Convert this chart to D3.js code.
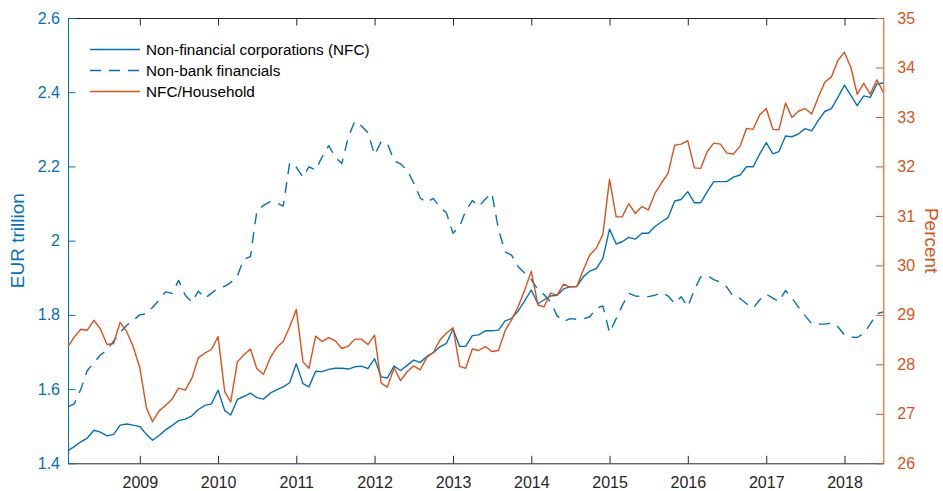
<!DOCTYPE html>
<html>
<head>
<meta charset="utf-8">
<script src="https://cdn.jsdelivr.net/npm/d3@7"></script>
<style>
  body { margin: 0; background: #fff; }
  svg { display: block; font-family: "Liberation Sans", Arial, Helvetica, sans-serif; }
</style>
</head>
<body>
<div id="chart"></div>
<script>
// Monthly series, Feb 2008 - Jul 2018
const firstMonth = new Date(2008, 1, 1);
const lastMonth = new Date(2018, 6, 1);

// Non-financial corporations (NFC), EUR trillion
const nfc = [
  1.434, 1.445, 1.458, 1.468, 1.489, 1.484, 1.474, 1.478, 1.503, 1.506, 1.503,
  1.499, 1.478, 1.462, 1.475, 1.490, 1.502, 1.515, 1.519, 1.528, 1.545, 1.556, 1.560,
  1.597, 1.542, 1.530, 1.572, 1.580, 1.589, 1.577, 1.573, 1.589, 1.598, 1.606, 1.617,
  1.668, 1.615, 1.606, 1.648, 1.647, 1.653, 1.656, 1.656, 1.654, 1.660, 1.662, 1.655,
  1.682, 1.633, 1.630, 1.662, 1.650, 1.664, 1.678, 1.672, 1.688, 1.698, 1.714, 1.723,
  1.762, 1.715, 1.715, 1.744, 1.746, 1.757, 1.757, 1.759, 1.784, 1.790, 1.811, 1.838,
  1.867, 1.830, 1.840, 1.851, 1.853, 1.870, 1.876, 1.876, 1.903, 1.918, 1.925, 1.952,
  2.031, 1.991, 1.997, 2.009, 2.004, 2.020, 2.020, 2.038, 2.051, 2.062, 2.107, 2.111,
  2.132, 2.102, 2.102, 2.132, 2.159, 2.159, 2.159, 2.171, 2.177, 2.199, 2.199, 2.233,
  2.264, 2.234, 2.240, 2.282, 2.280, 2.288, 2.302, 2.296, 2.324, 2.348, 2.356, 2.386,
  2.419, 2.390, 2.364, 2.390, 2.386, 2.422, 2.425
];

// Non-bank financials, EUR trillion
const nonBank = [
  1.552, 1.560, 1.600, 1.650, 1.670, 1.692, 1.705, 1.730, 1.752, 1.772, 1.785,
  1.800, 1.803, 1.820, 1.840, 1.862, 1.858, 1.893, 1.853, 1.834, 1.864, 1.845, 1.858,
  1.872, 1.877, 1.887, 1.905, 1.950, 1.957, 2.080, 2.095, 2.105, 2.102, 2.093, 2.210,
  2.198, 2.171, 2.199, 2.190, 2.225, 2.256, 2.226, 2.208, 2.280, 2.322, 2.309, 2.291,
  2.231, 2.267, 2.262, 2.215, 2.207, 2.190, 2.156, 2.115, 2.103, 2.114, 2.090, 2.075,
  2.020, 2.038, 2.080, 2.108, 2.092, 2.112, 2.128, 2.030, 1.970, 1.961, 1.930, 1.913,
  1.895, 1.868, 1.855, 1.835, 1.798, 1.782, 1.790, 1.788, 1.789, 1.795, 1.818, 1.824,
  1.752, 1.790, 1.825, 1.858, 1.851, 1.849, 1.849, 1.853, 1.860, 1.851, 1.831, 1.849,
  1.822, 1.868, 1.902, 1.906, 1.895, 1.888, 1.875, 1.849, 1.844, 1.830, 1.818, 1.840,
  1.856, 1.845, 1.836, 1.866, 1.845, 1.820, 1.798, 1.776, 1.775, 1.775, 1.778, 1.768,
  1.746, 1.740, 1.739, 1.750, 1.775, 1.803, 1.808
];

// NFC / Household, percent (right axis)
const nfcHousehold = [
  28.36, 28.55, 28.71, 28.69, 28.89, 28.72, 28.40, 28.42, 28.85, 28.66, 28.36,
  27.93, 27.12, 26.84, 27.06, 27.17, 27.30, 27.52, 27.48, 27.72, 28.13, 28.23, 28.30,
  28.56, 27.45, 27.24, 28.05, 28.19, 28.31, 27.91, 27.80, 28.13, 28.34, 28.46, 28.76,
  29.11, 28.05, 27.92, 28.57, 28.46, 28.54, 28.48, 28.32, 28.37, 28.51, 28.51, 28.40,
  28.59, 27.62, 27.54, 27.93, 27.67, 27.85, 27.97, 27.89, 28.14, 28.24, 28.49, 28.63,
  28.74, 27.96, 27.92, 28.31, 28.28, 28.36, 28.26, 28.28, 28.68, 28.90, 29.17, 29.50,
  29.88, 29.20, 29.16, 29.44, 29.40, 29.62, 29.56, 29.57, 29.91, 30.21, 30.35, 30.63,
  31.74, 30.98, 30.98, 31.25, 31.05, 31.19, 31.12, 31.46, 31.67, 31.86, 32.43, 32.45,
  32.52, 31.97, 31.96, 32.30, 32.47, 32.45, 32.27, 32.25, 32.41, 32.77, 32.75, 33.04,
  33.17, 32.75, 32.74, 33.28, 32.99, 33.12, 33.17, 33.06, 33.40, 33.70, 33.81, 34.14,
  34.31, 33.98, 33.46, 33.68, 33.46, 33.75, 33.50
];

const yearTicks = [2009, 2010, 2011, 2012, 2013, 2014, 2015, 2016, 2017, 2018];
const leftTicks = [1.4, 1.6, 1.8, 2.0, 2.2, 2.4, 2.6];
const rightTicks = [26, 27, 28, 29, 30, 31, 32, 33, 34, 35];
const legendLabels = ["Non-financial corporations (NFC)", "Non-bank financials", "NFC/Household"];

// MATLAB default colours
const blue = "#0072BD";
const orange = "#D95319";
const axisGray = "#262626";

const width = 943;
const height = 491;
const plot = { left: 68, right: 883.3, top: 18, bottom: 463.3 };
const tickLen = 7.5;

const months = nfc.map((_, i) => new Date(2008, 1 + i, 1));

const svg = d3.select("#chart")
  .append("svg")
  .attr("width", width)
  .attr("height", height);

const x = d3.scaleTime().domain([firstMonth, lastMonth]).range([plot.left, plot.right]);
const yL = d3.scaleLinear().domain([1.4, 2.6]).range([plot.bottom, plot.top]);
const yR = d3.scaleLinear().domain([26, 35]).range([plot.bottom, plot.top]);

const fmt = d => String(+d.toFixed(1));

// Axes
const bottomAxis = svg.append("g")
  .attr("transform", `translate(0,${plot.bottom})`)
  .call(d3.axisBottom(x)
    .tickValues(yearTicks.map(y => new Date(y, 0, 1)))
    .tickFormat(d3.timeFormat("%Y"))
    .tickSizeInner(-tickLen).tickSizeOuter(0).tickPadding(13));

const topAxis = svg.append("g")
  .attr("transform", `translate(0,${plot.top})`)
  .call(d3.axisTop(x)
    .tickValues(yearTicks.map(y => new Date(y, 0, 1)))
    .tickFormat("")
    .tickSizeInner(-tickLen).tickSizeOuter(0));

const leftAxis = svg.append("g")
  .attr("transform", `translate(${plot.left},0)`)
  .call(d3.axisLeft(yL).tickValues(leftTicks).tickFormat(fmt)
    .tickSizeInner(-tickLen).tickSizeOuter(0).tickPadding(8));

const rightAxis = svg.append("g")
  .attr("transform", `translate(${plot.right},0)`)
  .call(d3.axisRight(yR).tickValues(rightTicks).tickFormat(fmt)
    .tickSizeInner(-tickLen).tickSizeOuter(0).tickPadding(14));

function styleAxis(g, color) {
  g.select(".domain").attr("stroke", color).attr("stroke-width", 1);
  g.selectAll(".tick line").attr("stroke", color).attr("stroke-width", 1);
  g.selectAll(".tick text").attr("fill", color).attr("font-size", 16)
    .attr("font-family", "'Liberation Sans', Arial, sans-serif");
}
styleAxis(bottomAxis, axisGray);
styleAxis(topAxis, axisGray);
styleAxis(leftAxis, blue);
styleAxis(rightAxis, orange);

// Axis titles
svg.append("text")
  .attr("transform", `translate(24,${(plot.top + plot.bottom) / 2}) rotate(-90)`)
  .attr("text-anchor", "middle")
  .attr("fill", blue)
  .attr("font-size", 19)
  .text("EUR trillion");

svg.append("text")
  .attr("transform", `translate(925,${(plot.top + plot.bottom) / 2}) rotate(90)`)
  .attr("text-anchor", "middle")
  .attr("fill", orange)
  .attr("font-size", 19)
  .text("Percent");

// Lines
const lineL = d3.line().x((d, i) => x(months[i])).y(d => yL(d));
const lineR = d3.line().x((d, i) => x(months[i])).y(d => yR(d));

const series = [
  { values: nfc, line: lineL, color: blue, dash: null },
  { values: nonBank, line: lineL, color: blue, dash: "11,8" },
  { values: nfcHousehold, line: lineR, color: orange, dash: null }
];

svg.append("g")
  .selectAll("path")
  .data(series)
  .join("path")
  .attr("d", s => s.line(s.values))
  .attr("fill", "none")
  .attr("stroke", s => s.color)
  .attr("stroke-width", 1.4)
  .attr("stroke-linejoin", "round")
  .attr("stroke-dasharray", s => s.dash);

// Legend (no box)
const legend = svg.append("g");
const legendRows = legend.selectAll("g")
  .data(series)
  .join("g")
  .attr("transform", (d, i) => `translate(90,${49.5 + i * 21})`);

legendRows.append("line")
  .attr("x1", 0).attr("x2", 50)
  .attr("stroke", s => s.color)
  .attr("stroke-width", 1.4)
  .attr("stroke-dasharray", s => s.dash);

legendRows.append("text")
  .attr("x", 56)
  .attr("dy", "0.35em")
  .attr("font-size", 15.3)
  .attr("fill", "#000")
  .text((d, i) => legendLabels[i]);
</script>
</body>
</html>
